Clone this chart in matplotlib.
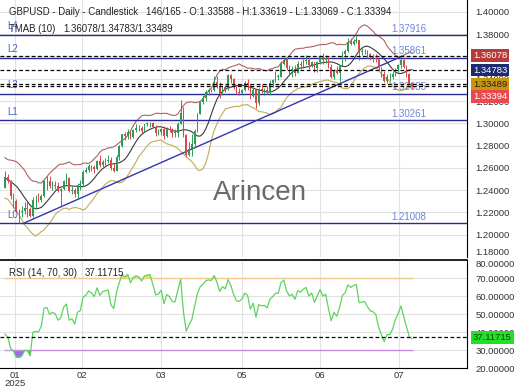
import numpy as np
import matplotlib
matplotlib.use("Agg")
from matplotlib import pyplot as plt
from matplotlib.transforms import blended_transform_factory

plt.rcParams['font.family'] = ['Liberation Sans', 'DejaVu Sans']

# warm-up bars, Dec 2024 (not drawn, feed the indicators only)
warm_close = [1.2765, 1.2755, 1.2755, 1.2665, 1.2620, 1.2685, 1.2710, 1.2570, 1.2500,
              1.2565, 1.2535, 1.2530, 1.2510, 1.2570, 1.2525, 1.2515, 1.2375, 1.2420]
warm_high = [1.2780, 1.2780, 1.2790, 1.2760, 1.2680, 1.2700, 1.2735, 1.2730, 1.2610,
             1.2580, 1.2610, 1.2560, 1.2545, 1.2585, 1.2575, 1.2555, 1.2535, 1.2445]
warm_low = [1.2715, 1.2720, 1.2720, 1.2660, 1.2615, 1.2610, 1.2665, 1.2560, 1.2475,
            1.2475, 1.2515, 1.2500, 1.2490, 1.2500, 1.2510, 1.2505, 1.2350, 1.2350]

# GBPUSD daily bars, 6 Jan .. 29 Jul 2025
first_open = 1.2420
close = [
    # jan
    1.2515, 1.2480, 1.2345, 1.2305, 1.2205, 1.2200, 1.2210, 1.2240, 1.2235, 1.2170,
    1.2310, 1.2315, 1.2310, 1.2345, 1.2480, 1.2485, 1.2435, 1.2450, 1.2440, 1.2395,
    # feb
    1.2410, 1.2480, 1.2505, 1.2395, 1.2405, 1.2365, 1.2445, 1.2455, 1.2565, 1.2580,
    1.2620, 1.2610, 1.2590, 1.2665, 1.2625, 1.2655, 1.2665, 1.2670, 1.2595, 1.2575,
    # mar
    1.2700, 1.2795, 1.2900, 1.2885, 1.2920, 1.2875, 1.2940, 1.2960, 1.2955, 1.2935,
    1.2990, 1.3000, 1.3005, 1.2965, 1.2915, 1.2920, 1.2950, 1.2885, 1.2950, 1.2940,
    1.2915,
    # apr
    1.2915, 1.2995, 1.3090, 1.2895, 1.2715, 1.2765, 1.2810, 1.2935, 1.3085, 1.3190,
    1.3230, 1.3285, 1.3300, 1.3295, 1.3375, 1.3330, 1.3265, 1.3325, 1.3310, 1.3435,
    1.3395, 1.3330,
    # may
    1.3280, 1.3275, 1.3300, 1.3360, 1.3345, 1.3245, 1.3300, 1.3185, 1.3305, 1.3295,
    1.3300, 1.3280, 1.3360, 1.3385, 1.3420, 1.3420, 1.3535, 1.3565, 1.3500, 1.3470,
    1.3485, 1.3455,
    # jun
    1.3535, 1.3525, 1.3555, 1.3570, 1.3525, 1.3550, 1.3500, 1.3550, 1.3605, 1.3570,
    1.3585, 1.3505, 1.3420, 1.3480, 1.3450, 1.3515, 1.3620, 1.3645, 1.3730, 1.3715,
    1.3735,
    # jul
    1.3745, 1.3640, 1.3645, 1.3650, 1.3620, 1.3595, 1.3590, 1.3575, 1.3495, 1.3440,
    1.3380, 1.3415, 1.3415, 1.3440, 1.3490, 1.3525, 1.3570, 1.3510, 1.3440, 1.33588,
    1.33394,
]
high = [
    1.2575, 1.2545, 1.2490, 1.2375, 1.2325, 1.2235, 1.2260, 1.2290, 1.2290, 1.2250,
    1.2340, 1.2360, 1.2375, 1.2365, 1.2490, 1.2525, 1.2525, 1.2480, 1.2485, 1.2470,
    1.2420, 1.2495, 1.2550, 1.2520, 1.2440, 1.2420, 1.2460, 1.2495, 1.2580, 1.2605,
    1.2635, 1.2630, 1.2630, 1.2675, 1.2715, 1.2675, 1.2690, 1.2715, 1.2695, 1.2640,
    1.2715, 1.2805, 1.2905, 1.2920, 1.2945, 1.2930, 1.2945, 1.2990, 1.2985, 1.2975,
    1.2995, 1.3015, 1.3015, 1.3015, 1.2985, 1.2950, 1.2960, 1.2975, 1.2970, 1.2975,
    1.2955,
    1.2945, 1.3010, 1.3205, 1.3150, 1.2905, 1.2830, 1.2900, 1.2945, 1.3095, 1.3200,
    1.3250, 1.3295, 1.3315, 1.3310, 1.3425, 1.3425, 1.3375, 1.3335, 1.3340, 1.3445,
    1.3445, 1.3405,
    1.3340, 1.3320, 1.3310, 1.3380, 1.3400, 1.3355, 1.3315, 1.3310, 1.3315, 1.3355,
    1.3320, 1.3335, 1.3385, 1.3400, 1.3470, 1.3445, 1.3555, 1.3595, 1.3595, 1.3525,
    1.3515, 1.3525,
    1.3555, 1.3555, 1.3580, 1.3615, 1.3595, 1.3560, 1.3550, 1.3560, 1.3615, 1.3630,
    1.3615, 1.3595, 1.3535, 1.3490, 1.3515, 1.3525, 1.3645, 1.3665, 1.3770, 1.3765,
    1.3760,
    1.37916, 1.3745, 1.3680, 1.3670, 1.3660, 1.3630, 1.3620, 1.3620, 1.3580, 1.3510,
    1.3470, 1.3440, 1.3450, 1.3470, 1.3500, 1.3535, 1.35861, 1.3580, 1.3525, 1.3455,
    1.33619,
]
low = [
    1.2415, 1.2460, 1.2320, 1.2240, 1.2200, 1.21008, 1.2160, 1.2185, 1.2160, 1.2160,
    1.2160, 1.2235, 1.2290, 1.2290, 1.2335, 1.2400, 1.2415, 1.2405, 1.2410, 1.2380,
    1.2250, 1.2405, 1.2455, 1.2380, 1.2365, 1.2335, 1.2330, 1.2405, 1.2435, 1.2550,
    1.2565, 1.2575, 1.2550, 1.2580, 1.2610, 1.2610, 1.2625, 1.2640, 1.2585, 1.2560,
    1.2570, 1.2675, 1.2785, 1.2850, 1.2860, 1.2860, 1.2865, 1.2925, 1.2935, 1.2910,
    1.2920, 1.2975, 1.2965, 1.2955, 1.2885, 1.2895, 1.2895, 1.2860, 1.2875, 1.2920,
    1.2875,
    1.2880, 1.2880, 1.2990, 1.2880, 1.2710, 1.2710, 1.2710, 1.2790, 1.2920, 1.3080,
    1.3170, 1.3200, 1.3250, 1.3280, 1.3290, 1.3320, 1.3225, 1.3250, 1.3280, 1.3295,
    1.3365, 1.3305,
    1.3260, 1.3255, 1.3260, 1.3290, 1.3300, 1.3220, 1.3240, 1.3140, 1.3165, 1.3270,
    1.3250, 1.3260, 1.3250, 1.3325, 1.3370, 1.3385, 1.3420, 1.3525, 1.3480, 1.3440,
    1.3415, 1.3425,
    1.3455, 1.3485, 1.3500, 1.3535, 1.3485, 1.3505, 1.3460, 1.3465, 1.3530, 1.3530,
    1.3545, 1.3495, 1.3410, 1.3395, 1.3445, 1.3370, 1.3520, 1.3555, 1.3640, 1.3700,
    1.3700,
    1.3720, 1.3565, 1.3610, 1.3620, 1.3585, 1.3565, 1.3550, 1.3550, 1.3475, 1.3420,
    1.3375, 1.3365, 1.3380, 1.3400, 1.3425, 1.3465, 1.3500, 1.3495, 1.3420, 1.3350,
    1.33069,
]

month_pos = [3.5, 27.6, 56, 85, 113, 141.3]
month_labels = ['01\n2025', '02', '03', '05', '06', '07']

levels = [1.37916, 1.35861, 1.32635, 1.30261, 1.21008]
level_names = ['L4', 'L2', 'L3', 'L1', 'L0']
trend_x = [6.5, 142.3]
trend_y = [1.2101, 1.3601]

tmab_last = [1.36078, 1.34783, 1.33489]
last_close = 1.33394
rsi_last = 37.11715

# ---- indicators
n = len(close)
nw = len(warm_close)
all_c = np.array(warm_close + close)
all_h = np.array(warm_high + high)
all_l = np.array(warm_low + low)
opens = np.array([first_open] + close[:-1])

w = np.r_[1:6, 5:0:-1].astype(float)
mid = np.convolve(all_c, w / w.sum(), mode='valid')[nw - 9:]
prev_c = np.r_[all_c[0], all_c[:-1]]
tr = np.maximum(all_h - all_l, np.maximum(abs(all_h - prev_c), abs(all_l - prev_c)))
atr = np.convolve(tr, np.ones(10) / 10, mode='valid')[nw - 9:]
upper = mid + 1.9 * atr
lower = mid - 1.9 * atr

d = np.diff(all_c)
up = np.clip(d, 0, None)
dn = np.clip(-d, 0, None)
au, ad = up[:14].mean(), dn[:14].mean()
rsi_all = []
for i in range(14, len(d)):
    au = (au * 13 + up[i]) / 14
    ad = (ad * 13 + dn[i]) / 14
    rsi_all.append(100 - 100 / (1 + au / ad))
rsi = np.array(rsi_all[-n:])

x = np.arange(n)
xlim = (-1.8, 165.7)

fig = plt.figure(figsize=(5.2, 3.9), dpi=100)
ax = fig.add_axes([0, 133 / 390, 467 / 520, 257 / 390])
rx = fig.add_axes([0, 22 / 390, 467 / 520, 108 / 390])

grid_c = '#e2e2e2'
lvl_c = '#2a2a96'

# ---- price panel
ax.set_xlim(*xlim)
ax.set_ylim(1.18, 1.4107)
yt = np.arange(1.18, 1.401, 0.02)
ax.set_yticks(yt)
ax.set_yticklabels([f'{v:.5f}' for v in yt])
ax.yaxis.tick_right()
ax.tick_params(axis='y', length=0, pad=6, labelsize=6.8, labelcolor='#333333')
ax.get_yticklabels()[0].set_va('bottom')
ax.set_xticks(month_pos)
ax.tick_params(axis='x', length=0, labelbottom=False)
ax.grid(True, color=grid_c, lw=0.8)
ax.set_axisbelow(True)
for s in ['top', 'left', 'bottom']:
    ax.spines[s].set_visible(False)
ax.spines['right'].set_color('black')

cols = np.where(np.array(close) >= opens, '#2e9a58', '#d84848')
ax.vlines(x, low, high, colors=cols, lw=0.7, zorder=3)
body_lo = np.minimum(opens, close)
body_h = np.maximum(abs(np.array(close) - opens), 0.0004)
ax.bar(x, body_h, bottom=body_lo, width=0.6, color=cols, zorder=4, lw=0)

ax.plot(x, upper, color='#b06262', lw=0.8, zorder=2)
ax.plot(x, mid, color='#3a3a3a', lw=0.8, zorder=2)
ax.plot(x, lower, color='#c2aa55', lw=0.8, zorder=2)

for lv, nm in zip(levels, level_names):
    ax.axhline(lv, color=lvl_c, lw=1.0, zorder=2)
    ax.text(0.7, lv + 0.0035, nm, color='#4a66c8', fontsize=7, va='bottom', ha='left')
    ax.text(144.9, lv + 0.0014, f'{lv:.5f}', color='#6a86d8', fontsize=7,
            va='bottom', ha='center')
ax.plot(trend_x, trend_y, color='#3535b0', lw=1.0, zorder=2)

for v in tmab_last + [last_close]:
    ax.axhline(v, color='black', lw=0.9, ls=(0, (3, 2)), zorder=5)

tr_r = blended_transform_factory(ax.transAxes, ax.transData)
box_cols = ['#b73a3a', '#1e2a6e', '#c8960c', '#e84a4f']
box_txt = ['white', 'white', '#222222', 'white']
box_vals = tmab_last + [last_close]
box_off = [0, 0, 0, -8]
for v, bc, tc, off in zip(box_vals, box_cols, box_txt, box_off):
    ax.annotate(f'{v:.5f}', xy=(1.013, v), xycoords=tr_r, xytext=(0, off),
                textcoords='offset points', va='center', ha='left', fontsize=6.8,
                color=tc, annotation_clip=False, zorder=10,
                bbox=dict(boxstyle='square,pad=0.2', fc=bc, ec='none'))

# ---- rsi panel
rx.set_xlim(*xlim)
rx.set_ylim(20, 80)
rt = np.arange(20, 81, 10)
rx.set_yticks(rt)
rx.set_yticklabels([f'{v:.5f}' for v in rt])
rx.yaxis.tick_right()
rx.tick_params(axis='y', length=0, pad=6, labelsize=6.8, labelcolor='#333333')
rx.get_yticklabels()[-1].set_va('top')
rx.set_xticks(month_pos)
rx.set_xticklabels(month_labels)
rx.tick_params(axis='x', length=0, pad=2, labelsize=6.8, labelcolor='#333333')
for lbl in rx.get_xticklabels():
    lbl.set_linespacing(0.85)
rx.grid(True, color=grid_c, lw=0.8)
rx.set_axisbelow(True)
rx.spines['left'].set_visible(False)
for s in ['top', 'right', 'bottom']:
    rx.spines[s].set_color('black')
rx.spines['top'].set_linewidth(1.2)

rx.plot([0, n - 1], [70, 70], color='#f2c98e', lw=1.0)
rx.plot([0, n - 1], [30, 30], color='#c58ee6', lw=1.0)
rx.fill_between(x, rsi, 70, where=rsi > 70, color='#e9e35a', lw=0, interpolate=True)
rx.fill_between(x, rsi, 30, where=rsi < 30, color='#9b6fe8', lw=0, interpolate=True)
rx.plot(x, rsi, color='#5fd35f', lw=0.9)
rx.axhline(rsi_last, color='black', lw=0.9, ls=(0, (3, 2)))
tr_r2 = blended_transform_factory(rx.transAxes, rx.transData)
rx.annotate(f'{rsi_last:.5f}', xy=(1.013, rsi_last), xycoords=tr_r2, va='center',
            ha='left', fontsize=6.8, color='#114411', annotation_clip=False, zorder=10,
            bbox=dict(boxstyle='square,pad=0.2', fc='#22e022', ec='none'))

# ---- texts
fig.text(9 / 520, 1 - 12 / 390, 'GBPUSD - Daily - Candlestick', fontsize=6.9,
         color='#222222', va='center')
fig.text(146 / 520, 1 - 12 / 390,
         '146/165 - O:1.33588 - H:1.33619 - L:1.33069 - C:1.33394',
         fontsize=6.9, color='#222222', va='center')
fig.text(9 / 520, 1 - 29 / 390, 'TMAB (10)', fontsize=6.9, color='#222222', va='center')
fig.text(63 / 520, 1 - 29 / 390, '/'.join(f'{v:.5f}' for v in tmab_last),
         fontsize=6.9, color='#222222', va='center')
fig.text(9 / 520, 1 - 273 / 390, 'RSI (14, 70, 30)', fontsize=6.9,
         color='#222222', va='center')
fig.text(85 / 520, 1 - 273 / 390, f'{rsi_last:.5f}', fontsize=6.9,
         color='#222222', va='center')
fig.text(0.5, 0.505, 'Arincen', fontsize=20, color='#6a6a6a', ha='center', va='center')

fig.savefig('out.png', dpi=100)
